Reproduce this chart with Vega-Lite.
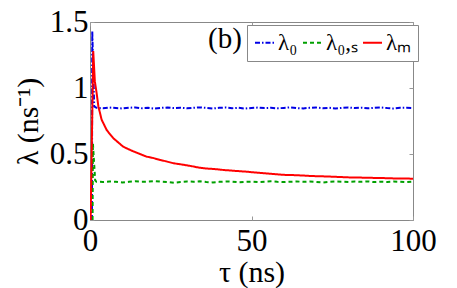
{
  "$schema": "https://vega.github.io/schema/vega-lite/v6.json",
  "width": 323,
  "height": 198,
  "autosize": {"type": "none"},
  "padding": {"left": 90, "top": 22, "right": 44, "bottom": 68},
  "background": "white",
  "view": {"stroke": "#888888", "strokeWidth": 1},
  "datasets": {
    "series": [
      {"tau": 0.6, "lam": 0, "s": "λ₀"},
      {"tau": 0.7, "lam": 1.43, "s": "λ₀"},
      {"tau": 1.3, "lam": 0.86, "s": "λ₀"},
      {"tau": 2, "lam": 0.85, "s": "λ₀"},
      {"tau": 4, "lam": 0.846, "s": "λ₀"},
      {"tau": 6, "lam": 0.852, "s": "λ₀"},
      {"tau": 8, "lam": 0.848, "s": "λ₀"},
      {"tau": 10, "lam": 0.845, "s": "λ₀"},
      {"tau": 12, "lam": 0.85, "s": "λ₀"},
      {"tau": 14, "lam": 0.853, "s": "λ₀"},
      {"tau": 16, "lam": 0.847, "s": "λ₀"},
      {"tau": 18, "lam": 0.85, "s": "λ₀"},
      {"tau": 20, "lam": 0.844, "s": "λ₀"},
      {"tau": 22, "lam": 0.849, "s": "λ₀"},
      {"tau": 24, "lam": 0.852, "s": "λ₀"},
      {"tau": 26, "lam": 0.848, "s": "λ₀"},
      {"tau": 28, "lam": 0.851, "s": "λ₀"},
      {"tau": 30, "lam": 0.846, "s": "λ₀"},
      {"tau": 32, "lam": 0.85, "s": "λ₀"},
      {"tau": 34, "lam": 0.853, "s": "λ₀"},
      {"tau": 36, "lam": 0.849, "s": "λ₀"},
      {"tau": 38, "lam": 0.845, "s": "λ₀"},
      {"tau": 40, "lam": 0.85, "s": "λ₀"},
      {"tau": 42, "lam": 0.852, "s": "λ₀"},
      {"tau": 44, "lam": 0.847, "s": "λ₀"},
      {"tau": 46, "lam": 0.85, "s": "λ₀"},
      {"tau": 48, "lam": 0.844, "s": "λ₀"},
      {"tau": 50, "lam": 0.849, "s": "λ₀"},
      {"tau": 52, "lam": 0.852, "s": "λ₀"},
      {"tau": 54, "lam": 0.848, "s": "λ₀"},
      {"tau": 56, "lam": 0.85, "s": "λ₀"},
      {"tau": 58, "lam": 0.846, "s": "λ₀"},
      {"tau": 60, "lam": 0.849, "s": "λ₀"},
      {"tau": 62, "lam": 0.853, "s": "λ₀"},
      {"tau": 64, "lam": 0.848, "s": "λ₀"},
      {"tau": 66, "lam": 0.845, "s": "λ₀"},
      {"tau": 68, "lam": 0.85, "s": "λ₀"},
      {"tau": 70, "lam": 0.852, "s": "λ₀"},
      {"tau": 72, "lam": 0.847, "s": "λ₀"},
      {"tau": 74, "lam": 0.85, "s": "λ₀"},
      {"tau": 76, "lam": 0.845, "s": "λ₀"},
      {"tau": 78, "lam": 0.849, "s": "λ₀"},
      {"tau": 80, "lam": 0.852, "s": "λ₀"},
      {"tau": 82, "lam": 0.848, "s": "λ₀"},
      {"tau": 84, "lam": 0.851, "s": "λ₀"},
      {"tau": 86, "lam": 0.846, "s": "λ₀"},
      {"tau": 88, "lam": 0.85, "s": "λ₀"},
      {"tau": 90, "lam": 0.853, "s": "λ₀"},
      {"tau": 92, "lam": 0.848, "s": "λ₀"},
      {"tau": 94, "lam": 0.845, "s": "λ₀"},
      {"tau": 96, "lam": 0.85, "s": "λ₀"},
      {"tau": 98, "lam": 0.851, "s": "λ₀"},
      {"tau": 100, "lam": 0.848, "s": "λ₀"},

      {"tau": 0.8, "lam": 0, "s": "λ₀,ₛ"},
      {"tau": 0.9, "lam": 0.58, "s": "λ₀,ₛ"},
      {"tau": 1.6, "lam": 0.3, "s": "λ₀,ₛ"},
      {"tau": 2, "lam": 0.29, "s": "λ₀,ₛ"},
      {"tau": 4, "lam": 0.288, "s": "λ₀,ₛ"},
      {"tau": 6, "lam": 0.292, "s": "λ₀,ₛ"},
      {"tau": 8, "lam": 0.29, "s": "λ₀,ₛ"},
      {"tau": 10, "lam": 0.284, "s": "λ₀,ₛ"},
      {"tau": 12, "lam": 0.289, "s": "λ₀,ₛ"},
      {"tau": 14, "lam": 0.293, "s": "λ₀,ₛ"},
      {"tau": 16, "lam": 0.29, "s": "λ₀,ₛ"},
      {"tau": 18, "lam": 0.291, "s": "λ₀,ₛ"},
      {"tau": 20, "lam": 0.295, "s": "λ₀,ₛ"},
      {"tau": 22, "lam": 0.29, "s": "λ₀,ₛ"},
      {"tau": 24, "lam": 0.287, "s": "λ₀,ₛ"},
      {"tau": 26, "lam": 0.282, "s": "λ₀,ₛ"},
      {"tau": 28, "lam": 0.288, "s": "λ₀,ₛ"},
      {"tau": 30, "lam": 0.292, "s": "λ₀,ₛ"},
      {"tau": 32, "lam": 0.29, "s": "λ₀,ₛ"},
      {"tau": 34, "lam": 0.293, "s": "λ₀,ₛ"},
      {"tau": 36, "lam": 0.288, "s": "λ₀,ₛ"},
      {"tau": 38, "lam": 0.285, "s": "λ₀,ₛ"},
      {"tau": 40, "lam": 0.289, "s": "λ₀,ₛ"},
      {"tau": 42, "lam": 0.292, "s": "λ₀,ₛ"},
      {"tau": 44, "lam": 0.29, "s": "λ₀,ₛ"},
      {"tau": 46, "lam": 0.286, "s": "λ₀,ₛ"},
      {"tau": 48, "lam": 0.289, "s": "λ₀,ₛ"},
      {"tau": 50, "lam": 0.291, "s": "λ₀,ₛ"},
      {"tau": 52, "lam": 0.288, "s": "λ₀,ₛ"},
      {"tau": 54, "lam": 0.29, "s": "λ₀,ₛ"},
      {"tau": 56, "lam": 0.293, "s": "λ₀,ₛ"},
      {"tau": 58, "lam": 0.289, "s": "λ₀,ₛ"},
      {"tau": 60, "lam": 0.287, "s": "λ₀,ₛ"},
      {"tau": 62, "lam": 0.29, "s": "λ₀,ₛ"},
      {"tau": 64, "lam": 0.292, "s": "λ₀,ₛ"},
      {"tau": 66, "lam": 0.289, "s": "λ₀,ₛ"},
      {"tau": 68, "lam": 0.291, "s": "λ₀,ₛ"},
      {"tau": 70, "lam": 0.288, "s": "λ₀,ₛ"},
      {"tau": 72, "lam": 0.284, "s": "λ₀,ₛ"},
      {"tau": 74, "lam": 0.289, "s": "λ₀,ₛ"},
      {"tau": 76, "lam": 0.292, "s": "λ₀,ₛ"},
      {"tau": 78, "lam": 0.29, "s": "λ₀,ₛ"},
      {"tau": 80, "lam": 0.288, "s": "λ₀,ₛ"},
      {"tau": 82, "lam": 0.291, "s": "λ₀,ₛ"},
      {"tau": 84, "lam": 0.289, "s": "λ₀,ₛ"},
      {"tau": 86, "lam": 0.292, "s": "λ₀,ₛ"},
      {"tau": 88, "lam": 0.287, "s": "λ₀,ₛ"},
      {"tau": 90, "lam": 0.29, "s": "λ₀,ₛ"},
      {"tau": 92, "lam": 0.288, "s": "λ₀,ₛ"},
      {"tau": 94, "lam": 0.291, "s": "λ₀,ₛ"},
      {"tau": 96, "lam": 0.289, "s": "λ₀,ₛ"},
      {"tau": 98, "lam": 0.287, "s": "λ₀,ₛ"},
      {"tau": 100, "lam": 0.29, "s": "λ₀,ₛ"},

      {"tau": 0.2, "lam": 0, "s": "λₘ"},
      {"tau": 1.0, "lam": 1.28, "s": "λₘ"},
      {"tau": 1.5, "lam": 1.05, "s": "λₘ"},
      {"tau": 2.06, "lam": 0.96, "s": "λₘ"},
      {"tau": 2.6, "lam": 0.86, "s": "λₘ"},
      {"tau": 3.6, "lam": 0.76, "s": "λₘ"},
      {"tau": 5.2, "lam": 0.68, "s": "λₘ"},
      {"tau": 7.2, "lam": 0.62, "s": "λₘ"},
      {"tau": 10.3, "lam": 0.555, "s": "λₘ"},
      {"tau": 13.4, "lam": 0.52, "s": "λₘ"},
      {"tau": 15.5, "lam": 0.5, "s": "λₘ"},
      {"tau": 17.5, "lam": 0.48, "s": "λₘ"},
      {"tau": 19.5, "lam": 0.47, "s": "λₘ"},
      {"tau": 21.7, "lam": 0.455, "s": "λₘ"},
      {"tau": 23.5, "lam": 0.445, "s": "λₘ"},
      {"tau": 25.8, "lam": 0.43, "s": "λₘ"},
      {"tau": 28, "lam": 0.422, "s": "λₘ"},
      {"tau": 31, "lam": 0.41, "s": "λₘ"},
      {"tau": 33.5, "lam": 0.398, "s": "λₘ"},
      {"tau": 36, "lam": 0.39, "s": "λₘ"},
      {"tau": 38.5, "lam": 0.386, "s": "λₘ"},
      {"tau": 41.3, "lam": 0.379, "s": "λₘ"},
      {"tau": 45, "lam": 0.372, "s": "λₘ"},
      {"tau": 48.5, "lam": 0.366, "s": "λₘ"},
      {"tau": 52, "lam": 0.358, "s": "λₘ"},
      {"tau": 55, "lam": 0.352, "s": "λₘ"},
      {"tau": 58, "lam": 0.346, "s": "λₘ"},
      {"tau": 60, "lam": 0.342, "s": "λₘ"},
      {"tau": 63, "lam": 0.34, "s": "λₘ"},
      {"tau": 65, "lam": 0.338, "s": "λₘ"},
      {"tau": 68, "lam": 0.334, "s": "λₘ"},
      {"tau": 70, "lam": 0.332, "s": "λₘ"},
      {"tau": 73, "lam": 0.33, "s": "λₘ"},
      {"tau": 75, "lam": 0.328, "s": "λₘ"},
      {"tau": 78, "lam": 0.325, "s": "λₘ"},
      {"tau": 80, "lam": 0.323, "s": "λₘ"},
      {"tau": 83, "lam": 0.322, "s": "λₘ"},
      {"tau": 85, "lam": 0.32, "s": "λₘ"},
      {"tau": 88, "lam": 0.319, "s": "λₘ"},
      {"tau": 90, "lam": 0.318, "s": "λₘ"},
      {"tau": 93, "lam": 0.316, "s": "λₘ"},
      {"tau": 95, "lam": 0.314, "s": "λₘ"},
      {"tau": 98, "lam": 0.314, "s": "λₘ"},
      {"tau": 100, "lam": 0.313, "s": "λₘ"}
    ],
    "notes": [
      {"tau": 41.8, "lam": 1.37, "text": "(b)"}
    ]
  },
  "layer": [
    {
      "data": {"name": "series"},
      "mark": {"type": "line", "strokeWidth": 2, "clip": true},
      "encoding": {
        "x": {
          "field": "tau", "type": "quantitative",
          "scale": {"domain": [0, 100], "nice": false, "zero": false},
          "axis": {
            "values": [0, 50, 100], "domain": false, "grid": false,
            "ticks": true, "tickSize": -4, "tickColor": "#999999",
            "labelFont": "Liberation Serif", "labelFontSize": 31, "labelColor": "black", "labelPadding": 10, "labelFlush": false,
            "title": "τ (ns)", "titleFont": "Liberation Serif", "titleFontSize": 30, "titleFontWeight": "normal", "titleColor": "black", "titlePadding": 1
          }
        },
        "y": {
          "field": "lam", "type": "quantitative",
          "scale": {"domain": [0, 1.5], "nice": false, "zero": false},
          "axis": {
            "values": [0, 0.5, 1, 1.5], "labelExpr": "datum.value + ''", "domain": false, "grid": false,
            "ticks": true, "tickSize": -4, "tickColor": "#999999",
            "labelFont": "Liberation Serif", "labelFontSize": 31, "labelColor": "black", "labelPadding": 6, "labelFlush": false,
            "title": "λ (ns⁻¹)", "titleFont": "Liberation Serif", "titleFontSize": 30, "titleFontWeight": "normal", "titleColor": "black", "titlePadding": 6
          }
        },
        "color": {
          "field": "s", "type": "nominal",
          "scale": {"domain": ["λ₀", "λ₀,ₛ", "λₘ"], "range": ["#0000e6", "#00a000", "#ff0000"]},
          "legend": {
            "title": null,
            "orient": "none",
            "legendX": 157,
            "legendY": 3,
            "direction": "horizontal",
            "columns": 3,
            "columnPadding": 1,
            "strokeColor": "#888888",
            "fillColor": "white",
            "padding": 6,
            "symbolType": "stroke",
            "symbolSize": 361,
            "symbolStrokeWidth": 2,
            "labelFont": "Liberation Serif",
            "labelFontSize": 23,
            "labelOffset": 2,
            "labelColor": "black"
          }
        },
        "strokeDash": {
          "field": "s", "type": "nominal",
          "scale": {"domain": ["λ₀", "λ₀,ₛ", "λₘ"], "range": [[5, 2, 1.5, 2], [4, 3], [1, 0]]},
          "legend": {
            "title": null,
            "orient": "none",
            "legendX": 157,
            "legendY": 3,
            "direction": "horizontal",
            "columns": 3,
            "columnPadding": 1,
            "strokeColor": "#888888",
            "fillColor": "white",
            "padding": 6,
            "symbolType": "stroke",
            "symbolSize": 361,
            "symbolStrokeWidth": 2,
            "labelFont": "Liberation Serif",
            "labelFontSize": 23,
            "labelOffset": 2,
            "labelColor": "black"
          }
        }
      }
    },
    {
      "data": {"name": "notes"},
      "mark": {"type": "text", "font": "Liberation Serif", "fontSize": 29, "align": "center", "baseline": "middle", "color": "black"},
      "encoding": {
        "x": {"field": "tau", "type": "quantitative", "axis": {"orient": "top", "labels": false, "title": null, "values": [0, 50, 100], "domain": false, "grid": false, "tickSize": -4, "tickColor": "#999999"}},
        "y": {"field": "lam", "type": "quantitative", "axis": {"orient": "right", "labels": false, "title": null, "values": [0, 0.5, 1, 1.5], "domain": false, "grid": false, "tickSize": -4, "tickColor": "#999999"}},
        "text": {"field": "text"}
      }
    }
  ],
  "resolve": {"axis": {"x": "independent", "y": "independent"}}
}
